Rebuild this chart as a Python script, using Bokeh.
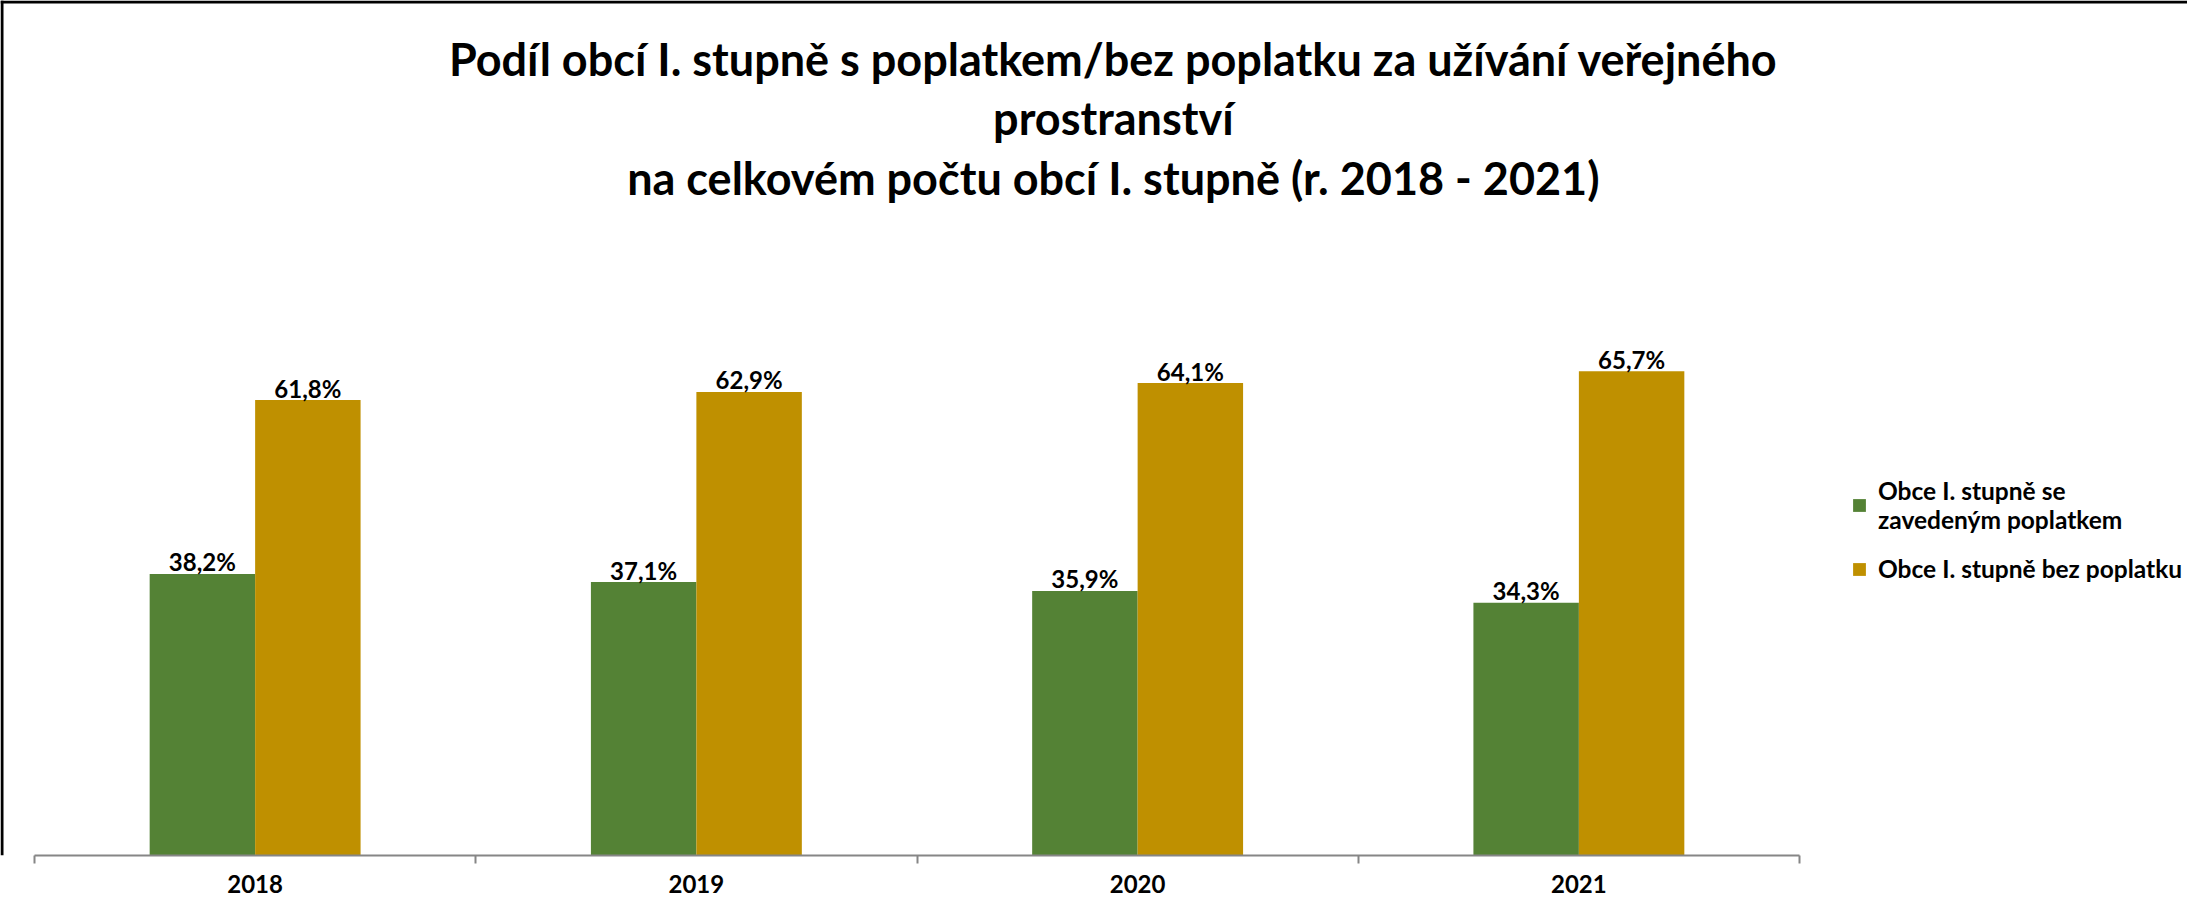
from bokeh.plotting import figure
from bokeh.models import (Range1d, FixedTicker, CustomJSTickFormatter, Label, Span,
                          Legend, LegendItem, ColumnDataSource)
from bokeh.core.properties import value
from bokeh.embed import file_html
from bokeh.resources import INLINE

# ---- data ----
years = ["2018", "2019", "2020", "2021"]
with_fee = [38.2, 37.1, 35.9, 34.3]
without_fee = [61.8, 62.9, 64.1, 65.7]
series_names = ["Obce I. stupně se\nzavedeným poplatkem", "Obce I. stupně bez poplatku"]
title_lines = [
    "Podíl obcí I. stupně s poplatkem/bez poplatku za užívání veřejného",
    "prostranství",
    "na celkovém počtu obcí I. stupně (r. 2018 - 2021)",
]

GREEN = "#548235"
GOLD = "#BF9000"
FONT = "Lato"

bar_w = 0.239
idx = list(range(len(years)))
x_green = [i + 0.5 - bar_w / 2 for i in idx]
x_gold = [i + 0.5 + bar_w / 2 for i in idx]

fmt_pct = lambda v: f"{v:.1f}".replace(".", ",") + "%"

src_g = ColumnDataSource(dict(x=x_green, top=with_fee, lab=[fmt_pct(v) for v in with_fee]))
src_o = ColumnDataSource(dict(x=x_gold, top=without_fee, lab=[fmt_pct(v) for v in without_fee]))

W, H = 2187, 901
FRAME_H = 848        # expected frame height (canvas minus axis panel)
PX = 441.25          # pixels per category
x_start = -34 / PX
x_end = x_start + W / PX
y_end = FRAME_H / 7.31

p = figure(width=W, height=H, output_backend="svg", toolbar_location=None,
           x_range=Range1d(x_start, x_end), y_range=Range1d(0, y_end),
           y_axis_location=None, min_border_left=0, min_border_right=0,
           min_border_top=0, min_border_bottom=46)
p.background_fill_color = "white"
p.border_fill_color = "white"
p.outline_line_color = None
p.grid.visible = False

rg = p.vbar(x="x", top="top", width=bar_w, source=src_g, fill_color=GREEN, line_color=None)
ro = p.vbar(x="x", top="top", width=bar_w, source=src_o, fill_color=GOLD, line_color=None)

for src in (src_g, src_o):
    p.text(x="x", y="top", text="lab", source=src, text_align="center",
           text_baseline="alphabetic", y_offset=-12, text_font=value(FONT),
           text_font_style="bold", text_font_size="24px", text_color="black")

ax = p.xaxis[0]
ax.bounds = (0, len(years))
ax.ticker = FixedTicker(ticks=[i + 0.5 for i in idx], minor_ticks=[float(i) for i in range(len(years) + 1)])
ax.formatter = CustomJSTickFormatter(args=dict(labels=years), code="return labels[Math.floor(tick)];")
ax.axis_line_color = "#868686"
ax.axis_line_width = 2
ax.major_tick_line_color = None
ax.major_tick_out = 0
ax.major_tick_in = 0
ax.minor_tick_line_color = "#868686"
ax.minor_tick_line_width = 2
ax.minor_tick_out = 8
ax.minor_tick_in = 0
ax.major_label_standoff = 11
ax.major_label_text_font = FONT
ax.major_label_text_font_style = "bold"
ax.major_label_text_font_size = "24px"
ax.major_label_text_color = "black"

# chart border (top and left edges)
p.add_layout(Span(location=y_end - 1.5 / 7.31, dimension="width", line_color="black", line_width=3))
p.add_layout(Span(location=x_start + 1.5 / PX, dimension="height", line_color="black", line_width=3))

# title lines
title_x = 2.445
title_y = [y_end - 58 / 7.31, y_end - 117 / 7.31, y_end - 176 / 7.31]
for txt, ty in zip(title_lines, title_y):
    p.add_layout(Label(x=title_x, y=ty, text=txt, text_align="center", text_baseline="alphabetic",
                       text_font=FONT, text_font_style="bold", text_font_size="45px",
                       text_color="black"))

legend = Legend(items=[LegendItem(label=series_names[0], renderers=[rg]),
                       LegendItem(label=series_names[1], renderers=[ro])],
                location=(1851, 272), orientation="vertical")
legend.background_fill_alpha = 0
legend.border_line_color = None
legend.padding = 0
legend.margin = 0
legend.glyph_width = 16
legend.glyph_height = 16
legend.label_standoff = 11
legend.spacing = 20
legend.label_text_font = FONT
legend.label_text_font_style = "bold"
legend.label_text_font_size = "24.5px"
legend.label_text_line_height = 1.5
legend.label_text_color = "black"
p.add_layout(legend, "center")

open("out.html", "w").write(file_html(p, INLINE))
